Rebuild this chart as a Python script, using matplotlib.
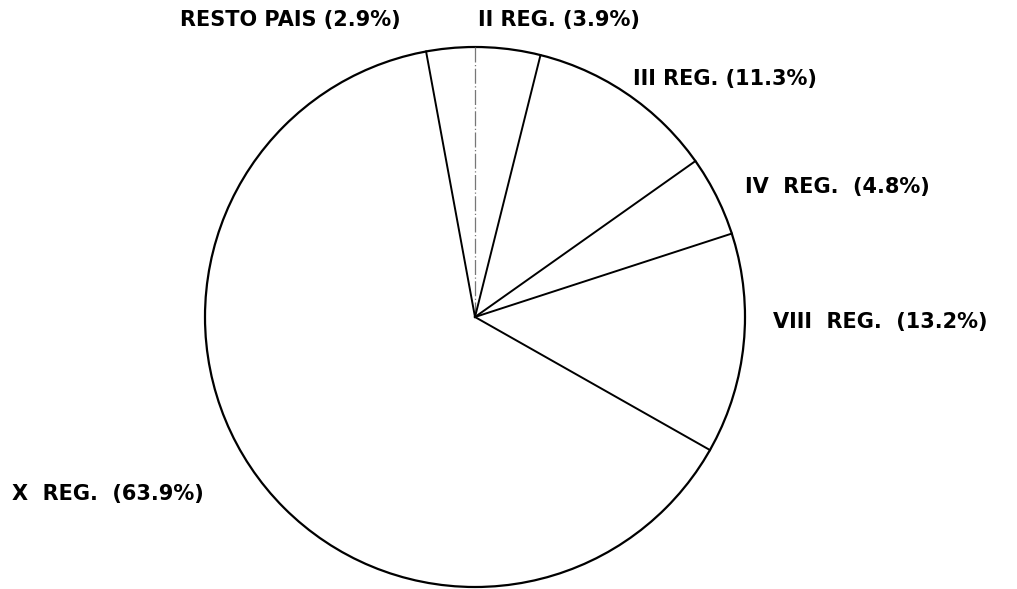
import matplotlib
matplotlib.use("Agg")
import matplotlib.pyplot as plt
import numpy as np

# share of each region, clockwise from 12 o'clock
regions = ["II REG.", "III REG.", "IV REG.", "VIII REG.", "X REG.", "RESTO PAIS"]
shares = [3.9, 11.3, 4.8, 13.2, 63.9, 2.9]

# label anchor points (left edge, vertical centre) in pie-radius units
label_pos = {
    "II REG.": (0.011, 1.10),
    "III REG.": (0.585, 0.88),
    "IV REG.": (1.00, 0.48),
    "VIII REG.": (1.104, -0.02),
    "X REG.": (-1.715, -0.655),
    "RESTO PAIS": (-1.093, 1.10),
}
# the original plotter font runs wider on some labels
wide_labels = ["IV REG.", "VIII REG.", "X REG."]

fig = plt.figure(figsize=(10.17, 5.89), dpi=100)
ax = fig.add_axes([0, 0, 1, 1])
ax.set_aspect("equal")
ax.axis("off")

wedges, _ = ax.pie(shares, startangle=90, counterclock=False, radius=1.0,
                   colors=["white"] * len(shares),
                   wedgeprops=dict(linewidth=0, edgecolor="none"))

# outline
circle = plt.Circle((0, 0), 1.0, fill=False, edgecolor="black", linewidth=1.6)
ax.add_patch(circle)

# radial boundaries from the cumulative shares
bounds = np.concatenate([[0], np.cumsum(shares)])
total = bounds[-1]
for i, b in enumerate(bounds[:-1]):
    ang = np.deg2rad(90 - 360 * b / total)
    x, y = np.cos(ang), np.sin(ang)
    if i == 0:
        ax.plot([0, x], [0, y], color="#777777", linewidth=0.9, linestyle=(0, (12, 2, 1, 2)))
    else:
        ax.plot([0, x], [0, y], color="black", linewidth=1.4)

for name, val in zip(regions, shares):
    lx, ly = label_pos[name]
    if name in wide_labels:
        txt = f"{name.replace(' ', '  ')}  ({val:.1f}%)"
    else:
        txt = f"{name} ({val:.1f}%)"
    ax.text(lx, ly, txt, ha="left", va="center",
            fontsize=15, fontweight="semibold", family="DejaVu Sans", color="black")

ax.set_xlim(-475 / 270, (1017 - 475) / 270)
ax.set_ylim(-(589 - 317) / 270, 317 / 270)

fig.savefig("out.png", dpi=100)
plt.close(fig)
